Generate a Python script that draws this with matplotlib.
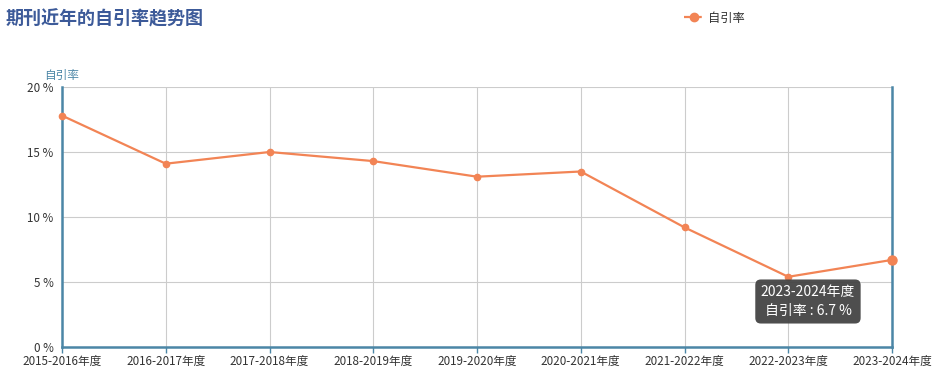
import matplotlib
matplotlib.use('Agg')
import matplotlib.pyplot as plt
from matplotlib.lines import Line2D

plt.rcParams['font.family'] = ['Noto Sans CJK SC', 'DejaVu Sans']

years = ['2015-2016年度', '2016-2017年度', '2017-2018年度', '2018-2019年度', '2019-2020年度',
         '2020-2021年度', '2021-2022年度', '2022-2023年度', '2023-2024年度']
self_cite = [17.8, 14.1, 15.0, 14.3, 13.1, 13.5, 9.2, 5.4, 6.7]
y_ticks = [0, 5, 10, 15, 20]

LINE = '#f28455'
AXIS = '#4b86a6'
GRID = '#cccccc'
TEXT = '#333333'

fig = plt.figure(figsize=(9.4, 3.84), dpi=100)
ax = fig.add_axes([62 / 940, 37 / 384, 830 / 940, 260 / 384])
x = list(range(len(years)))
ax.plot(x, self_cite, color=LINE, lw=1.6, marker='o', ms=4.5, zorder=3, clip_on=False)
ax.plot(x[-1], self_cite[-1], 'o', color=LINE, ms=6.5, zorder=4, clip_on=False)

ax.set_xlim(0, len(years) - 1)
ax.set_ylim(0, 20)
ax.set_xticks(x)
ax.set_xticklabels(years, fontsize=8.4, color=TEXT)
ax.set_yticks(y_ticks)
ax.set_yticklabels([f'{v} %' for v in y_ticks], fontsize=8.4, color=TEXT)
ax.grid(True, color=GRID, lw=0.8)
ax.set_axisbelow(True)
for s in ['left', 'bottom', 'right']:
    ax.spines[s].set_color(AXIS)
    ax.spines[s].set_linewidth(1.8)
ax.spines['top'].set_visible(False)
ax.tick_params(axis='x', colors=AXIS, length=4, width=1, labelcolor=TEXT, pad=2)
ax.tick_params(axis='y', length=0, pad=6, labelcolor=TEXT)

fig.text(62 / 940, 1 - 75 / 384, '自引率', color=AXIS, fontsize=8.4, ha='center', va='center')
fig.text(6 / 940, 1 - 19 / 384, '期刊近年的自引率趋势图', color='#3c5a99', fontsize=13,
         fontweight='bold', ha='left', va='center')

legend_handle = Line2D([0], [0], color=LINE, lw=1.6, ls=(0, (3, 2)), marker='o', ms=6)
fig.legend([legend_handle], ['自引率'], loc='center left', bbox_to_anchor=(673 / 940, 1 - 18 / 384),
           frameon=False, fontsize=8.8, handlelength=1.6, handletextpad=0.4, labelcolor=TEXT)

ax.annotate(f'{years[-1]}\n自引率 : {self_cite[-1]} %', xy=(7.19, 3.5), xycoords='data',
            ha='center', va='center', fontsize=10, color='white', linespacing=1.45,
            bbox=dict(boxstyle='round,pad=0.4,rounding_size=0.4', fc='#444444', ec='none', alpha=0.95),
            zorder=6)

fig.savefig('out.png', dpi=100)
